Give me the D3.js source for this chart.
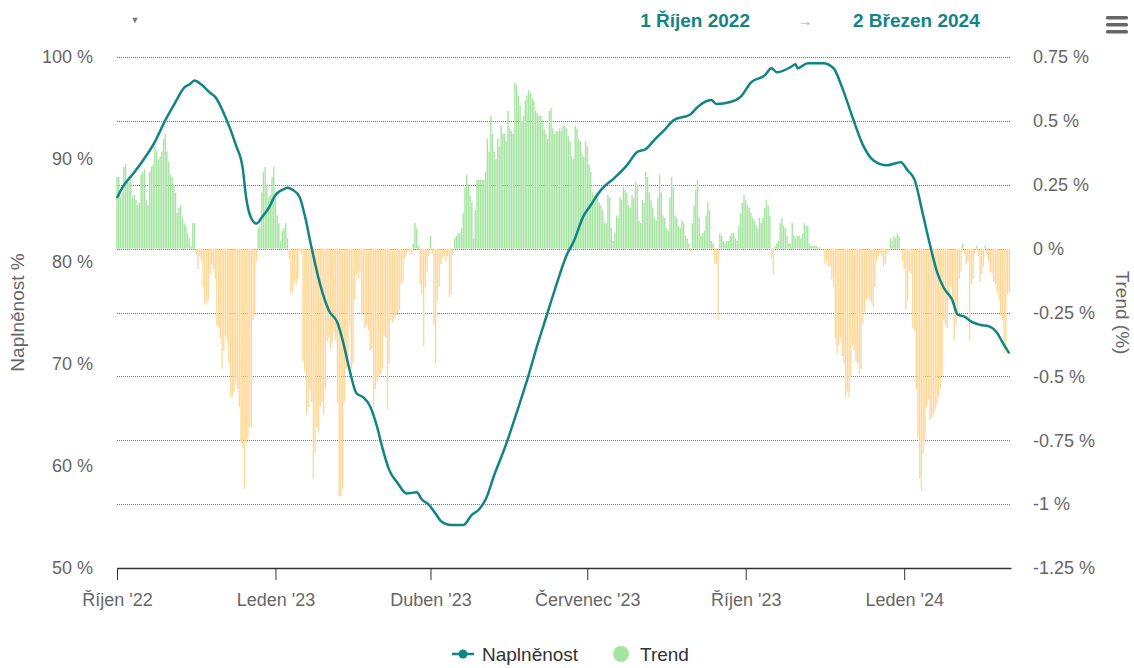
<!DOCTYPE html>
<html>
<head>
<meta charset="utf-8">
<script src="https://cdn.jsdelivr.net/npm/d3@7"></script>
<style>
  body { margin: 0; background: #fff; }
  svg { font-family: "Liberation Sans", Arial, sans-serif; }
</style>
</head>
<body>
<div id="chart"></div>
<script>
// data
var startDate = "2022-10-01", endDate = "2024-03-03";
var fromLabel = "1 Říjen 2022", toLabel = "2 Březen 2024";

var tickDates = ["2022-10-01", "2023-01-01", "2023-04-01", "2023-07-01", "2023-10-01", "2024-01-01"];
var tickLabels = ["Říjen '22", "Leden '23", "Duben '23", "Červenec '23", "Říjen '23", "Leden '24"];

var fillTicks = [50, 60, 70, 80, 90, 100];
var trendTicks = [-1.25, -1, -0.75, -0.5, -0.25, 0, 0.25, 0.5, 0.75];

// Naplněnost (%), day offset from startDate
var lineDay = [0, 3, 9, 16, 22, 28, 34, 39, 42, 45, 49, 54, 57, 63, 69, 73, 75, 78, 81, 84,
  88, 92, 96, 99, 102, 106, 109, 113, 118, 123, 128, 131, 135, 139, 143, 147, 151, 154, 158, 163,
  168, 174, 177, 181, 185, 188, 194, 201, 206, 210, 214, 219, 225, 233, 239, 244, 250, 256, 261, 265,
  271, 275, 281, 289, 296, 302, 307, 312, 318, 323, 333, 337, 345, 348, 356, 362, 368, 376, 380, 383,
  391, 394, 395, 401, 410, 416, 421, 427, 433, 439, 447, 455, 459, 463, 468, 472, 476, 480, 485, 488,
  492, 496, 501, 507, 511, 514, 518];
var lineValue = [86.2, 87.2, 88.5, 90.1, 91.7, 93.8, 95.6, 97.0, 97.3, 97.7, 97.3, 96.5, 96.1, 94.1, 91.4, 89.1, 86.2, 84.2, 83.7, 84.3,
  85.2, 86.5, 87.0, 87.2, 87.0, 86.3, 84.5, 81.3, 77.7, 75.2, 74.0, 72.3, 69.4, 67.1, 66.7, 65.8, 63.8, 61.8, 59.6, 58.3,
  57.3, 57.4, 56.7, 56.2, 55.3, 54.6, 54.2, 54.2, 55.2, 55.7, 56.7, 59.1, 61.7, 65.7, 68.9, 71.8, 75.0, 78.2, 80.6, 81.9,
  84.5, 85.5, 87.0, 88.2, 89.4, 90.7, 91.0, 91.9, 92.9, 93.8, 94.4, 95.1, 95.8, 95.4, 95.6, 96.1, 97.5, 98.2, 98.9, 98.5,
  99.0, 99.3, 98.9, 99.4, 99.4, 98.9, 97.0, 94.1, 91.4, 89.9, 89.4, 89.7, 88.9, 88.0, 84.5, 81.6, 79.0, 77.4, 76.2, 74.8,
  74.6, 74.1, 73.8, 73.6, 73.0, 72.1, 71.0];

// Trend (%), one value per day from startDate
var trend = [
  0.28,0.28,0.2,0.22,0.32,0.33,0.27,0.26,0.27,0.2,
  0.21,0.19,0.17,0.18,0.29,0.3,0.31,0.19,0.17,0.3,
  0.32,0.33,0.4,0.38,0.35,0.36,0.38,0.43,0.45,0.38,
  0.34,0.29,0.28,0.25,0.22,0.14,0.16,0.17,0.12,0.1,
  0.09,0.06,0.04,0.01,0.1,0.1,-0.02,-0.08,-0.03,-0.05,
  -0.15,-0.22,-0.21,-0.2,-0.1,-0.06,-0.08,-0.12,-0.3,-0.31,
  -0.35,-0.47,-0.4,-0.34,-0.36,-0.45,-0.58,-0.58,-0.56,-0.52,
  -0.55,-0.62,-0.76,-0.78,-0.94,-0.76,-0.74,-0.7,-0.7,-0.28,
  -0.26,-0.05,0.08,0.09,0.22,0.3,0.32,0.25,0.2,0.21,
  0.28,0.32,0.2,0.13,0.1,0.03,0.07,0.08,0.1,0.04,
  -0.04,-0.18,-0.17,-0.13,-0.14,-0.12,-0.01,-0.02,-0.44,-0.48,
  -0.65,-0.62,-0.55,-0.6,-0.9,-0.8,-0.7,-0.72,-0.62,-0.6,
  -0.65,-0.55,-0.36,-0.35,-0.39,-0.37,-0.33,-0.36,-0.6,-0.97,
  -0.97,-0.94,-0.6,-0.47,-0.42,-0.3,-0.47,-0.45,-0.2,-0.1,
  -0.12,-0.09,-0.26,-0.25,-0.31,-0.3,-0.32,-0.4,-0.39,-0.62,
  -0.55,-0.52,-0.5,-0.49,-0.47,-0.34,-0.35,-0.63,-0.45,-0.28,
  -0.29,-0.27,-0.26,-0.25,-0.24,-0.14,-0.13,-0.04,-0.02,-0.01,
  -0.01,-0.02,0.02,0.1,0.08,0.01,-0.14,-0.18,-0.38,-0.15,
  -0.09,-0.03,0.05,-0.02,-0.3,-0.45,-0.2,-0.15,-0.06,-0.04,
  -0.03,-0.05,-0.03,-0.19,-0.18,-0.02,0.04,0.05,0.06,0.06,
  0.08,0.14,0.24,0.29,0.25,0.21,0.18,0.04,0.15,0.27,
  0.27,0.27,0.27,0.27,0.3,0.43,0.38,0.52,0.45,0.38,
  0.35,0.43,0.4,0.48,0.45,0.45,0.42,0.54,0.47,0.46,
  0.45,0.65,0.64,0.6,0.56,0.5,0.52,0.58,0.6,0.62,
  0.61,0.59,0.58,0.54,0.53,0.52,0.52,0.5,0.47,0.45,
  0.43,0.54,0.55,0.47,0.45,0.46,0.46,0.47,0.46,0.48,
  0.48,0.47,0.44,0.42,0.36,0.35,0.48,0.47,0.43,0.42,
  0.37,0.36,0.42,0.4,0.33,0.3,0.22,0.21,0.22,0.2,
  0.18,0.17,0.15,0.1,0.1,0.21,0.2,0.08,0.03,0.06,
  0.13,0.12,0.2,0.19,0.24,0.23,0.22,0.17,0.16,0.21,
  0.2,0.26,0.25,0.11,0.1,0.19,0.18,0.3,0.28,0.22,
  0.19,0.16,0.12,0.11,0.2,0.29,0.22,0.13,0.12,0.08,
  0.07,0.2,0.28,0.24,0.13,0.12,0.09,0.08,0.11,0.1,
  0.05,0.04,0.02,-0.01,0.1,0.17,0.23,0.27,0.12,0.05,
  0.06,0.07,0.13,0.18,0.15,0.03,0.02,-0.06,-0.06,-0.28,
  0.06,0.05,0.03,0.02,0.03,0.03,0.05,0.06,0.06,0.04,
  0.03,0.09,0.14,0.18,0.21,0.19,0.17,0.16,0.14,0.12,
  0.11,0.09,0.08,0.12,0.1,0.12,0.16,0.19,0.17,0.13,
  -0.04,-0.1,0.01,0.02,0.03,0.1,0.12,0.09,0.08,0.05,
  0.02,0.02,0.1,0.05,0.04,0.05,0.05,0.04,0.06,0.1,
  0.09,0.09,0.02,0.01,0.01,0.01,0.01,0.005,0.005,0,
  0,-0.06,-0.05,-0.07,-0.07,-0.12,-0.15,-0.35,-0.41,-0.38,
  -0.35,-0.42,-0.45,-0.58,-0.56,-0.58,-0.5,-0.38,-0.4,-0.44,
  -0.45,-0.49,-0.47,-0.29,-0.25,-0.2,-0.19,-0.2,-0.21,-0.23,
  -0.15,-0.05,-0.03,-0.02,-0.03,-0.07,-0.06,-0.02,-0.01,0.04,
  0.03,0.05,0.04,0.06,0.05,0,-0.05,-0.08,-0.24,-0.2,
  -0.09,-0.1,-0.31,-0.32,-0.55,-0.74,-0.9,-0.95,-0.8,-0.75,
  -0.62,-0.59,-0.67,-0.66,-0.65,-0.63,-0.61,-0.58,-0.55,-0.5,
  -0.28,-0.3,-0.31,-0.2,-0.15,-0.22,-0.36,-0.3,-0.26,-0.12,
  -0.09,0.02,-0.02,-0.06,-0.05,-0.36,-0.14,-0.12,-0.02,0.01,
  -0.03,-0.13,-0.1,-0.07,0.01,-0.02,-0.05,-0.09,-0.1,-0.13,
  -0.14,-0.17,-0.2,-0.26,-0.28,-0.41,-0.38,-0.18,-0.17
];

var W = 1134, H = 668,
    plotLeft = 117, plotRight = 1011, plotTop = 57, plotBottom = 568;
var teal = "#118585", green = "#a6e5a1", orange = "#fed89a", grey = "#666";

var svg = d3.select("#chart").append("svg")
    .attr("width", W).attr("height", H);

var parse = d3.utcParse("%Y-%m-%d");
var start = parse(startDate);

var x = d3.scaleUtc()
    .domain([start, parse(endDate)])
    .range([plotLeft, plotRight]);
var yL = d3.scaleLinear().domain([50, 100]).range([plotBottom, plotTop]);
var yR = d3.scaleLinear().domain([-1.25, 0.75]).range([plotBottom, plotTop]);

// dotted grid from trend axis
svg.append("g").selectAll("line")
    .data(trendTicks.filter(function(d) { return d > -1.25; }))
  .enter().append("line")
    .attr("x1", plotLeft).attr("x2", plotRight)
    .attr("y1", function(d) { return Math.round(yR(d)) + 0.5; })
    .attr("y2", function(d) { return Math.round(yR(d)) + 0.5; })
    .attr("stroke", "#7a7a7a")
    .attr("stroke-dasharray", "1,1");

// trend columns
var step = x(d3.utcDay.offset(start, 1)) - x(start);
var bw = step * 0.8;
svg.append("g").selectAll("rect")
    .data(trend)
  .enter().append("rect")
    .attr("x", function(d, i) { return x(d3.utcDay.offset(start, i)) - bw / 2; })
    .attr("y", function(d) { return d >= 0 ? yR(d) : yR(0); })
    .attr("width", bw)
    .attr("height", function(d) { return Math.abs(yR(d) - yR(0)); })
    .attr("fill", function(d) { return d >= 0 ? green : orange; });

// fill line
var line = d3.line()
    .x(function(d) { return x(d3.utcDay.offset(start, d[0])); })
    .y(function(d) { return yL(d[1]); })
    .curve(d3.curveMonotoneX);

svg.append("path")
    .datum(lineDay.map(function(d, i) { return [d, lineValue[i]]; }))
    .attr("fill", "none")
    .attr("stroke", teal)
    .attr("stroke-width", 2.5)
    .attr("stroke-linejoin", "round")
    .attr("d", line);

// x axis
var xAxis = svg.append("g")
    .attr("transform", "translate(0," + plotBottom + ")")
    .call(d3.axisBottom(x)
      .tickValues(tickDates.map(parse))
      .tickFormat(function(d, i) { return tickLabels[i]; })
      .tickSizeInner(12).tickSizeOuter(0).tickPadding(13));
xAxis.select(".domain").attr("stroke", "#333").attr("stroke-width", 1.5);
xAxis.selectAll(".tick line").attr("stroke", "#333");
xAxis.selectAll("text").attr("fill", grey).style("font-size", "18px");

// left axis
var lAxis = svg.append("g")
    .attr("transform", "translate(" + plotLeft + ",0)")
    .call(d3.axisLeft(yL).tickValues(fillTicks)
      .tickFormat(function(d) { return d + " %"; })
      .tickSize(0).tickPadding(24));
lAxis.select(".domain").remove();
lAxis.selectAll("text").attr("fill", grey).style("font-size", "18px");

// right axis
var rAxis = svg.append("g")
    .attr("transform", "translate(" + plotRight + ",0)")
    .call(d3.axisRight(yR).tickValues(trendTicks)
      .tickFormat(function(d) { return String(d) + " %"; })
      .tickSize(0).tickPadding(22));
rAxis.select(".domain").remove();
rAxis.selectAll("text").attr("fill", grey).style("font-size", "18px");

// axis titles
svg.append("text")
    .attr("transform", "translate(24," + (plotTop + plotBottom) / 2 + ") rotate(-90)")
    .attr("text-anchor", "middle")
    .attr("fill", grey).style("font-size", "19px")
    .text("Naplněnost %");
svg.append("text")
    .attr("transform", "translate(1116," + (plotTop + plotBottom) / 2 + ") rotate(90)")
    .attr("text-anchor", "middle")
    .attr("fill", grey).style("font-size", "19px")
    .text("Trend (%)");

// header: range selector
svg.append("text").attr("x", 135).attr("y", 23)
    .attr("text-anchor", "middle").attr("fill", "#777")
    .style("font-size", "9px").text("▼");
svg.append("text").attr("x", 750).attr("y", 27)
    .attr("text-anchor", "end").attr("fill", teal)
    .style("font-size", "19px").style("font-weight", "bold")
    .text(fromLabel);
svg.append("text").attr("x", 805).attr("y", 26)
    .attr("text-anchor", "middle").attr("fill", "#aaa")
    .style("font-size", "15px").text("→");
svg.append("text").attr("x", 853).attr("y", 27)
    .attr("fill", teal)
    .style("font-size", "19px").style("font-weight", "bold")
    .text(toLabel);

// menu icon
svg.append("g").selectAll("rect")
    .data([16, 23, 30])
  .enter().append("rect")
    .attr("x", 1106).attr("y", function(d) { return d; })
    .attr("width", 22).attr("height", 3.5).attr("rx", 1.5)
    .attr("fill", grey);

// legend
var lg = svg.append("g");
lg.append("line").attr("x1", 452).attr("x2", 474).attr("y1", 654).attr("y2", 654)
    .attr("stroke", teal).attr("stroke-width", 2.5);
lg.append("circle").attr("cx", 463).attr("cy", 654).attr("r", 4.5).attr("fill", teal);
lg.append("text").attr("x", 482).attr("y", 661)
    .attr("fill", "#333").style("font-size", "19px").text("Naplněnost");
lg.append("circle").attr("cx", 621).attr("cy", 654).attr("r", 8).attr("fill", green);
lg.append("text").attr("x", 640).attr("y", 661)
    .attr("fill", "#333").style("font-size", "19px").text("Trend");
</script>
</body>
</html>
